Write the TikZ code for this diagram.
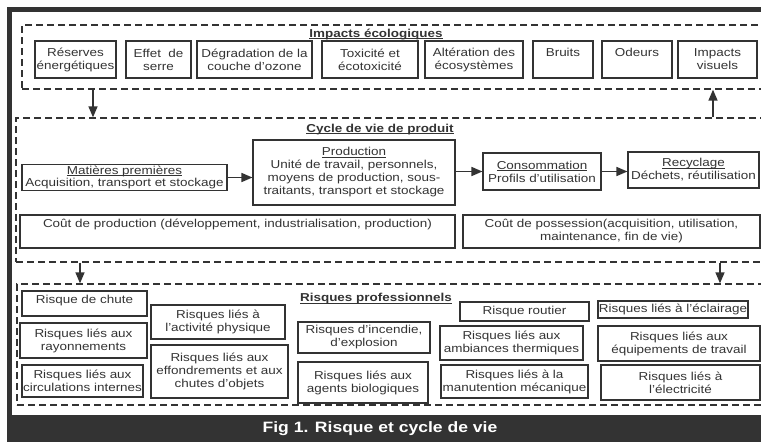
\documentclass[tikz,border=0pt]{standalone}
\usepackage{fontspec}
\setmainfont{Liberation Sans}[FakeStretch=1.17]
\usetikzlibrary{arrows.meta}
\definecolor{sombre}{HTML}{333333}
\newcommand{\souligne}[1]{\underline{\raisebox{0pt}[\height][0pt]{#1}}}

\begin{document}
\begin{tikzpicture}[x=1pt, y=-1pt,
    font=\fontsize{11.5}{13}\selectfont, text=sombre,
    boite/.style={draw=sombre, line width=1.1pt, inner sep=1pt, align=center},
    zone/.style={draw=sombre, line width=1.3pt, dash pattern=on 7pt off 4pt},
    titre/.style={font=\fontsize{11.5}{13}\selectfont\bfseries},
    fleche/.style={draw=sombre, line width=1.5pt, -{Triangle[length=11pt,width=9pt]}},
    legende/.style={text=white, font=\fontsize{15}{17}\selectfont\bfseries}]
                \clip (0,0) rectangle (761,442);
                % Cadre
                \fill[sombre] (7,7) rectangle (770,12);
                \fill[sombre] (7,7) rectangle (12,450);
                \fill[sombre] (7,415) rectangle (770,450);
                \node[legende] (fig) at (380,429) {Fig 1. Risque et cycle de vie};

                % Impacts ecologiques
                \node[zone, minimum width=754, minimum height=64] (impacts) at (399,57) {};
                \node[titre] (t-impacts) at (376,34) {\souligne{Impacts écologiques}};
                \node[boite, minimum width=81, minimum height=37] (reserves) at (75.5,59.5) {Réserves\\énergétiques};
                \node[boite, minimum width=65, minimum height=37] (effet) at (158.5,59.5) {Effet~ de\\serre};
                \node[boite, minimum width=115, minimum height=37] (ozone) at (254.5,59.5) {Dégradation de la\\couche d'ozone};
                \node[boite, minimum width=96, minimum height=37] (toxicite) at (370,59.5) {Toxicité et\\écotoxicité};
                \node[boite, minimum width=98, minimum height=37] (alteration) at (474,59.5) {Altération des\\écosystèmes};
                \node[boite, minimum width=60, minimum height=37, text depth=15pt] (bruits) at (563,59.5) {Bruits};
                \node[boite, minimum width=70, minimum height=37, text depth=15pt] (odeurs) at (637,59.5) {Odeurs};
                \node[boite, minimum width=79, minimum height=37] (visuels) at (717.5,59.5) {Impacts\\visuels};

                % Cycle de vie de produit
                \node[zone, minimum width=760, minimum height=144] (cycle) at (396,190) {};
                \node[titre] (t-cycle) at (380,129) {\souligne{Cycle de vie de produit}};
                \node[boite, minimum width=205, minimum height=23, font=\fontsize{11.5}{12.5}\selectfont] (matieres) at (124.5,177.5) {\souligne{Matières premières}\\Acquisition, transport et stockage};
                \node[boite, minimum width=202, minimum height=65] (production) at (354,172.5) {\souligne{Production}\\Unité de travail, personnels,\\moyens de production, sous-\\traitants, transport et stockage};
                \node[boite, minimum width=118, minimum height=37] (conso) at (542,171.5) {\souligne{Consommation}\\Profils d'utilisation};
                \node[boite, minimum width=131, minimum height=36] (recyclage) at (693.5,170) {\souligne{Recyclage}\\Déchets, réutilisation};
                \node[boite, minimum width=435, minimum height=33, text height=9pt, text depth=17pt] (coutprod) at (237.5,231.5) {Coût de production (développement, industrialisation, production)};
                \node[boite, minimum width=297, minimum height=33] (coutposs) at (611.5,231.5) {Coût de possession(acquisition, utilisation,\\maintenance, fin de vie)};

                \draw[fleche] (matieres.east) -- (matieres.east -| production.west);
                \draw[fleche] (production.east |- conso.west) -- (conso.west);
                \draw[fleche] (conso.east) -- (conso.east -| recyclage.west);

                % Risques professionnels
                \node[zone, minimum width=759, minimum height=121] (risques) at (396.5,344.5) {};
                \node[titre] (t-risques) at (376,298.5) {\souligne{Risques professionnels}};
                \node[boite, minimum width=125, minimum height=25, text depth=8pt] (chute) at (84.5,303.5) {Risque de chute};
                \node[boite, minimum width=127, minimum height=35] (rayonnements) at (83.5,340.5) {Risques liés aux\\rayonnements};
                \node[boite, minimum width=121, minimum height=32] (circulations) at (82.5,381) {Risques liés aux\\circulations internes};
                \node[boite, minimum width=134, minimum height=34] (activite) at (218,322) {Risques liés à\\l'activité physique};
                \node[boite, minimum width=137, minimum height=53] (effondrements) at (219.5,371.5) {Risques liés aux\\effondrements et aux\\chutes d'objets};
                \node[boite, minimum width=132, minimum height=31] (incendie) at (364,337.5) {Risques d'incendie,\\d'explosion};
                \node[boite, minimum width=130, minimum height=41] (biologiques) at (363,382.5) {Risques liés aux\\agents biologiques};
                \node[boite, minimum width=129, minimum height=19] (routier) at (524.5,311.5) {Risque routier};
                \node[boite, minimum width=143, minimum height=34] (thermiques) at (511.5,343) {Risques liés aux\\ambiances thermiques};
                \node[boite, minimum width=147, minimum height=33] (manutention) at (514.5,381.5) {Risques liés à la\\manutention mécanique};
                \node[boite, minimum width=150, minimum height=17] (eclairage) at (673,309.5) {Risques liés à l'éclairage};
                \node[boite, minimum width=162, minimum height=35] (equipements) at (679,343.5) {Risques liés aux\\équipements de travail};
                \node[boite, minimum width=159, minimum height=35] (electricite) at (680.5,382.5) {Risques liés à\\l'électricité};

                % Liaisons entre zones
                \draw[fleche] (impacts.south -| 93,0) -- (cycle.north -| 93,0);
                \draw[fleche] (cycle.north -| 713,0) -- (impacts.south -| 713,0);
                \draw[fleche] (cycle.south -| 80,0) -- (risques.north -| 80,0);
                \draw[fleche] (cycle.south -| 720,0) -- (risques.north -| 720,0);
            \end{tikzpicture}
\end{document}
